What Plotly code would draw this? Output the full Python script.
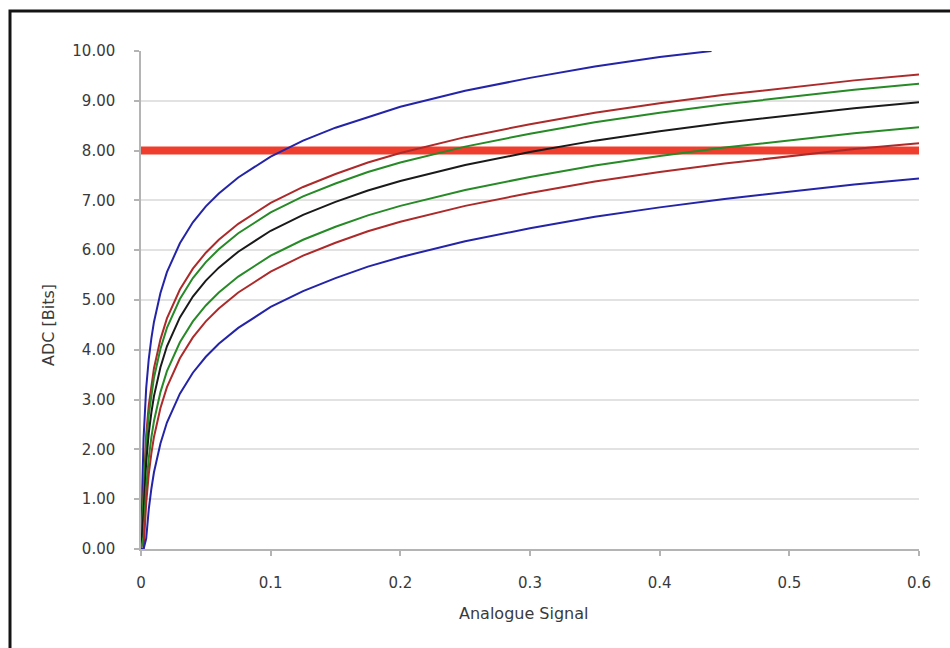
import plotly.graph_objects as go

# ---- data ----
X_SHARED = [0, 0.002, 0.004, 0.006, 0.008, 0.01, 0.015, 0.02, 0.03, 0.04, 0.05, 0.06,
            0.075, 0.1, 0.125, 0.15, 0.175, 0.2, 0.25, 0.3, 0.35, 0.4, 0.45, 0.5, 0.55, 0.6]
X_TOP_BLUE = [0, 0.0005, 0.001, 0.002, 0.004, 0.006, 0.008, 0.01, 0.015, 0.02, 0.03, 0.04,
              0.05, 0.06, 0.075, 0.1, 0.125, 0.15, 0.2, 0.25, 0.3, 0.35, 0.4, 0.44]

TOP_BLUE = [0, 0.23, 1.23, 2.23, 3.23, 3.82, 4.23, 4.56, 5.14, 5.56, 6.14, 6.56,
            6.88, 7.14, 7.46, 7.88, 8.20, 8.46, 8.88, 9.20, 9.46, 9.69, 9.88, 10.0]
RED_1 = [0, 1.30, 2.30, 2.89, 3.30, 3.63, 4.21, 4.63, 5.21, 5.63, 5.95, 6.21,
         6.53, 6.95, 7.27, 7.53, 7.76, 7.95, 8.27, 8.53, 8.76, 8.95, 9.12, 9.27, 9.41, 9.53]
GREEN_1 = [0, 1.11, 2.11, 2.70, 3.11, 3.44, 4.02, 4.44, 5.02, 5.44, 5.76, 6.02,
           6.34, 6.76, 7.08, 7.34, 7.57, 7.76, 8.08, 8.34, 8.57, 8.76, 8.93, 9.08, 9.22, 9.34]
BLACK = [0, 0.74, 1.74, 2.33, 2.74, 3.07, 3.65, 4.07, 4.65, 5.07, 5.39, 5.65,
         5.97, 6.39, 6.71, 6.97, 7.20, 7.39, 7.71, 7.97, 8.20, 8.39, 8.56, 8.71, 8.85, 8.97]
GREEN_2 = [0, 0.24, 1.24, 1.83, 2.24, 2.57, 3.15, 3.57, 4.15, 4.57, 4.89, 5.15,
           5.47, 5.89, 6.21, 6.47, 6.70, 6.89, 7.21, 7.47, 7.70, 7.89, 8.06, 8.21, 8.35, 8.47]
RED_2 = [0, 0.0, 0.92, 1.51, 1.92, 2.25, 2.83, 3.25, 3.83, 4.25, 4.57, 4.83,
         5.15, 5.57, 5.89, 6.15, 6.38, 6.57, 6.89, 7.15, 7.38, 7.57, 7.74, 7.89, 8.03, 8.15]
BLUE_2 = [0, 0.0, 0.21, 0.80, 1.21, 1.54, 2.12, 2.54, 3.12, 3.54, 3.86, 4.12,
          4.44, 4.86, 5.18, 5.44, 5.67, 5.86, 6.18, 6.44, 6.67, 6.86, 7.03, 7.18, 7.32, 7.44]

THRESHOLD_X = [0, 0.6]
THRESHOLD_Y = [8.0, 8.0]

X_TICKS = [0, 0.1, 0.2, 0.3, 0.4, 0.5, 0.6]
X_TICK_TEXT = ["0", "0.1", "0.2", "0.3", "0.4", "0.5", "0.6"]
Y_TICKS = [0, 1, 2, 3, 4, 5, 6, 7, 8, 9, 10]

X_TITLE = "Analogue Signal"
Y_TITLE = "ADC [Bits]"

# ---- styles ----
BLUE = "#2424a8"
RED = "#ad2a2a"
GREEN = "#268a26"
BLACKC = "#1a1a1a"
BAND = "#ef3e2e"
FONT = "DejaVu Sans"
TXT = "#3a3a3a"

fig = go.Figure()
fig.add_trace(go.Scatter(x=THRESHOLD_X, y=THRESHOLD_Y, mode="lines",
                         line=dict(color=BAND, width=8), showlegend=False))
series = [
    (X_TOP_BLUE, TOP_BLUE, BLUE),
    (X_SHARED, RED_1, RED),
    (X_SHARED, GREEN_1, GREEN),
    (X_SHARED, BLACK, BLACKC),
    (X_SHARED, GREEN_2, GREEN),
    (X_SHARED, RED_2, RED),
    (X_SHARED, BLUE_2, BLUE),
]
for xs, ys, c in series:
    fig.add_trace(go.Scatter(x=xs, y=ys, mode="lines",
                             line=dict(color=c, width=2), showlegend=False))

L, R, T, B = 141, 31, 51, 99
W, H = 950, 648
pw, ph = W - L - R, H - T - B

def px(xpix):
    return (xpix - L) / pw

def py(ypix):
    return (H - B - ypix) / ph

fig.update_layout(
    width=W, height=H,
    margin=dict(l=L, r=R, t=T, b=B, pad=0),
    paper_bgcolor="white", plot_bgcolor="white",
    font=dict(family=FONT, size=15, color=TXT),
    xaxis=dict(range=[0, 0.6], tickvals=X_TICKS, ticktext=X_TICK_TEXT,
               showgrid=False, zeroline=False, showline=True,
               linecolor="#b4b4b4", linewidth=1.5,
               ticks="outside", ticklen=5, tickcolor="#b4b4b4", tickwidth=1.5,
               ticklabelstandoff=14, tickfont=dict(size=15, color=TXT, family=FONT)),
    yaxis=dict(range=[0, 10], tickvals=Y_TICKS, tickformat=".2f",
               showgrid=True, gridcolor="#e2e2e2", gridwidth=1.5,
               zeroline=False, showline=True,
               linecolor="#b4b4b4", linewidth=1.5,
               ticks="outside", ticklen=5, tickcolor="#b4b4b4", tickwidth=1.5,
               ticklabelstandoff=16, tickfont=dict(size=15, color=TXT, family=FONT)),
    shapes=[dict(type="rect", xref="paper", yref="paper",
                 x0=px(10), x1=px(975), y0=py(680), y1=py(11),
                 line=dict(color="#141414", width=3), fillcolor="rgba(0,0,0,0)",
                 layer="above")],
    annotations=[
        dict(text=X_TITLE, xref="paper", yref="paper", x=px(524), y=py(613),
             showarrow=False, xanchor="center", yanchor="middle",
             font=dict(size=16, color=TXT, family=FONT)),
        dict(text=Y_TITLE, xref="paper", yref="paper", x=px(48), y=py(325),
             showarrow=False, xanchor="center", yanchor="middle", textangle=-90,
             font=dict(size=16, color=TXT, family=FONT)),
    ],
)

fig.write_html("out.html")
